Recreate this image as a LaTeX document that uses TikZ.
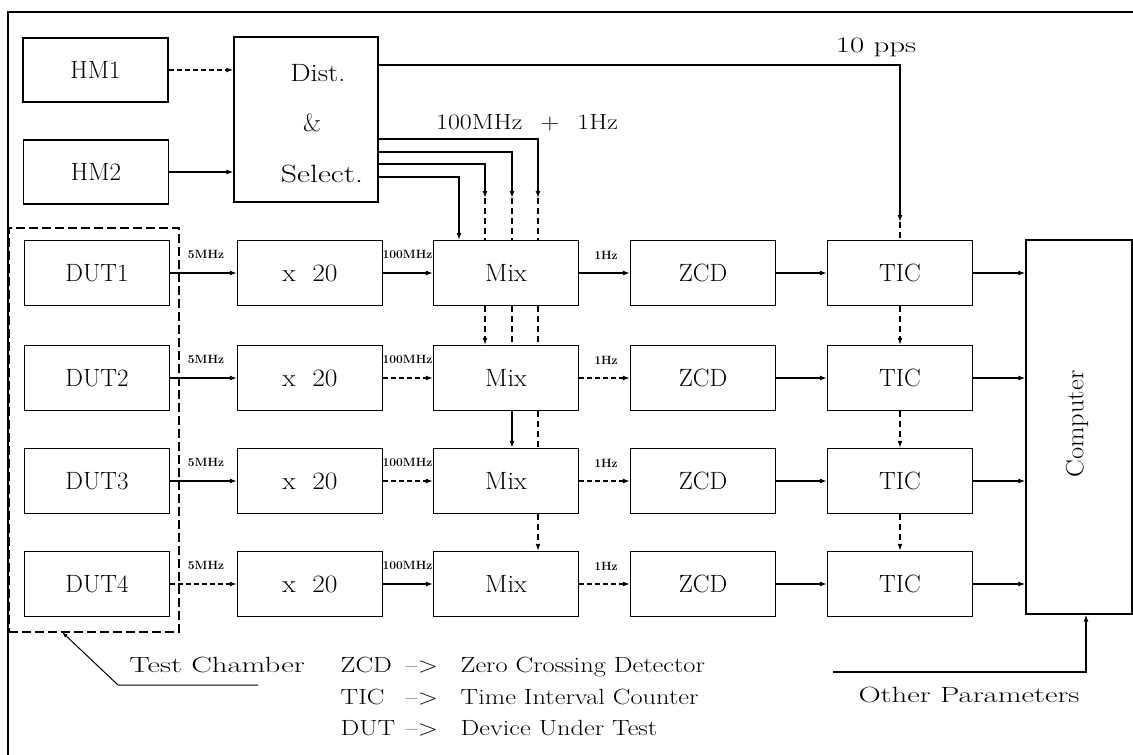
\documentclass[tikz,border=0pt]{standalone}
\usepackage{graphicx}
\usetikzlibrary{arrows.meta}
\newcommand\sx[2]{\scalebox{#1}[1]{#2}}
\begin{document}
\begin{tikzpicture}[x=1pt,y=-1pt,line width=1.3pt,
  big/.style={font=\fontsize{25}{29}\selectfont},
  mid/.style={font=\fontsize{22}{26}\selectfont},
  box/.style={draw, line width=1.3pt, minimum width=145pt, minimum height=65pt, inner sep=0pt, big},
  txt/.style={inner sep=0pt, big},
  ltxt/.style={inner sep=0pt, mid},
  small/.style={inner sep=0pt, font=\fontsize{12}{14}\selectfont\bfseries},
  arr/.style={-{Latex[length=7pt,width=5pt]}},
  broken/.style={dash pattern=on 5pt off 3pt},
  dsh/.style={dash pattern=on 6pt off 4pt},
  ]
\useasboundingbox (0,0) rectangle (1133,755);
% frame
\draw (8,755) -- (8,12) -- (1133,12);

% top blocks
\node[box, minimum height=64pt] (hm1) at (95.5,70) {HM1};
\node[box, minimum height=64pt] (hm2) at (96,172) {HM2};
\node[box, minimum width=144pt, minimum height=165pt] (dist) at (306,119.5) {};
\node[txt] (distA) at (318,73) {\sx{1.15}{Dist.}};
\node[txt] (distB) at (312,123) {\&};
\node[txt] (distC) at (322,174) {\sx{1.27}{Select.}};
\draw[arr,broken] (hm1) -- (hm1 -| dist.west);
\draw[arr] (hm2) -- (hm2 -| dist.west);

% rows
\foreach \i/\y in {1/273,2/378,3/481,4/584}{
  \node[box] (dut\i) at (97,\y) {DUT\i};
  \node[box] (mul\i) at (310,\y) {\sx{1.1}{x\hspace{0.6em}20}};
  \node[box] (mix\i) at (506,\y) {\sx{1.05}{Mix}};
  \node[box] (zcd\i) at (703,\y) {ZCD};
  \node[box] (tic\i) at (900,\y) {TIC};
  \node[small] (lf\i) at (206,\y-19) {5MHz};
  \node[small, anchor=east] (lh\i) at (433,\y-19) {100MHz};
  \node[small] (lo\i) at (606,\y-18) {1Hz};
}
\node[draw, minimum width=106pt, minimum height=374pt, inner sep=0pt] (comp) at (1079,427) {};
\node[txt, rotate=90] (comptxt) at (1077,424) {\sx{1.06}{Computer}};

\foreach \i/\sa/\sb/\sc in {1/solid/solid/solid,2/solid/broken/broken,3/solid/broken/broken,4/broken/solid/broken}{
  \draw[arr,\sa] (dut\i) -- (mul\i);
  \draw[arr,\sb] (mul\i) -- (mix\i);
  \draw[arr,\sc] (mix\i) -- (zcd\i);
  \draw[arr] (zcd\i) -- (tic\i);
  \draw[arr] (tic\i) -- (tic\i -| comp.west);
}

% distribution lines
\path (dist.east) ++(0,-54.5) coordinate (d0);
\path (dist.east) ++(0,19.5) coordinate (d1);
\path (dist.east) ++(0,32.5) coordinate (d2);
\path (dist.east) ++(0,44.5) coordinate (d3);
\path (dist.east) ++(0,57.5) coordinate (d4);
\coordinate (k1) at (538,198);
\coordinate (k2) at (512,198);
\coordinate (k3) at (485,198);
\coordinate (k4) at (459,198);
\draw[arr] (d1) -| (k1);
\draw[arr] (d2) -| (k2);
\draw[arr] (d3) -| (k3);
\draw[arr] (d4) -| (mix1.north -| k4);
\draw[dsh] (k1) -- (mix1.north -| k1);
\draw[dsh] (k2) -- (mix1.north -| k2);
\draw[dsh] (k3) -- (mix1.north -| k3);
\node[ltxt] (freq) at (527,123) {\sx{1.18}{100MHz\hspace{0.7em}+\hspace{0.7em}1Hz}};

% mix chain
\draw[arr,dsh] (mix1.south -| k3) -- (mix2.north -| k3);
\draw[dsh] (mix1.south -| k2) -- (mix2.north -| k2);
\draw[dsh] (mix1.south -| k1) -- (mix2.north -| k1);
\draw[arr] (mix2.south -| k2) -- (mix3.north -| k2);
\draw[dsh] (mix2.south -| k1) -- (mix3.north -| k1);
\draw[arr,dsh] (mix3.south -| k1) -- (mix4.north -| k1);

% 10 pps
\coordinate (p1) at (900,222);
\draw[arr] (d0) -| (p1);
\draw[dsh] (p1) -- (tic1.north);
\node[ltxt] (pps) at (876,47) {\sx{1.4}{10 pps}};
\draw[arr,dsh] (tic1) -- (tic2);
\draw[arr,dsh] (tic2) -- (tic3);
\draw[arr,dsh] (tic3) -- (tic4);

% test chamber
\node[draw, dash pattern=on 9pt off 4pt, minimum width=170pt, minimum height=404pt, inner sep=0pt] (chamber) at (94,430) {};
\coordinate (lt) at (62,632);
\coordinate (lm) at (118,685);
\coordinate (le) at (258,685);
\draw[{Latex[length=6pt,width=4pt]}-, line width=1pt] (lt) -- (lm) -- (le);
\node[ltxt, anchor=base] (tc) at (217,672) {\sx{1.4}{Test Chamber}};

% legend
\node[ltxt, anchor=base west] (g1a) at (340,672) {\sx{1.2}{ZCD}};
\node[ltxt, anchor=base west] (g1b) at (405,672) {\sx{1.2}{--{}>}};
\node[ltxt, anchor=base west] (g1c) at (460,672) {\sx{1.2}{Zero Crossing Detector}};
\node[ltxt, anchor=base west] (g2a) at (340,704) {\sx{1.2}{TIC}};
\node[ltxt, anchor=base west] (g2b) at (405,704) {\sx{1.2}{--{}>}};
\node[ltxt, anchor=base west] (g2c) at (460,704) {\sx{1.2}{Time Interval Counter}};
\node[ltxt, anchor=base west] (g3a) at (340,735) {\sx{1.2}{DUT}};
\node[ltxt, anchor=base west] (g3b) at (405,735) {\sx{1.2}{--{}>}};
\node[ltxt, anchor=base west] (g3c) at (460,735) {\sx{1.2}{Device Under Test}};

% other parameters
\coordinate (op) at (833,672);
\coordinate (opc) at (1086,672);
\draw[arr] (op) -- (opc) -- (comp.south -| opc);
\node[ltxt] (optxt) at (969,695) {\sx{1.4}{Other Parameters}};
\end{tikzpicture}
\end{document}
